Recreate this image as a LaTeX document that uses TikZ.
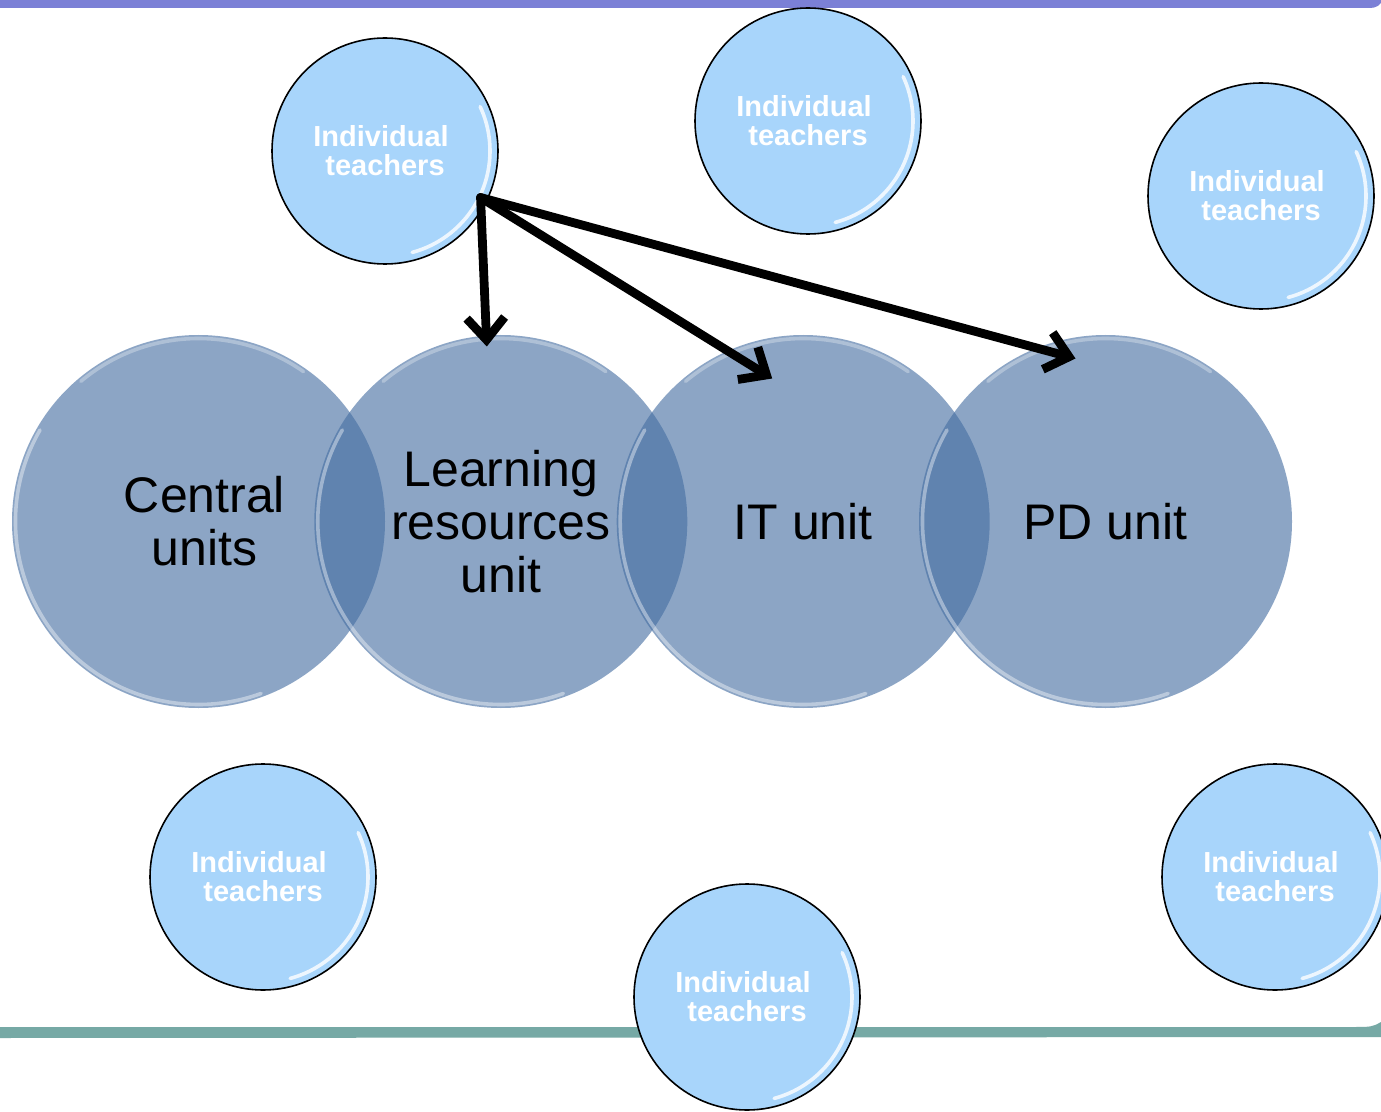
\documentclass[tikz,border=0pt]{standalone}
\usepackage{fontspec}
\setmainfont{Liberation Sans}
\usetikzlibrary{arrows.meta}
\definecolor{topbar}{HTML}{7B80D6}
\definecolor{botbar}{HTML}{76A9A5}
\definecolor{unitfill}{HTML}{466FA3}
\definecolor{teachfill}{HTML}{A8D5FB}
\begin{document}
\begin{tikzpicture}[x=0.5pt,y=-0.5pt,
  unit/.style={circle, fill=unitfill, fill opacity=0.62, text opacity=1,
    minimum size=186.5pt, inner sep=0pt, outer sep=0pt, align=center, text=black,
    font=\fontsize{25}{26.5}\selectfont},
  teacher/.style={circle, draw=black, line width=0.8pt, fill=teachfill,
    minimum size=113pt, inner sep=0pt, outer sep=0pt, align=center, text=white,
    font=\bfseries\fontsize{14.5}{14.5}\selectfont},
  unitrim/.style={draw=white, draw opacity=0.4, line width=1.8pt, line cap=round},
  teachrim/.style={draw=white, draw opacity=0.8, line width=1.8pt, line cap=round},
  link/.style={line width=4.4pt, line cap=round, line join=round,
    -{Straight Barb[length=11pt,width=19pt]}}]
\useasboundingbox (0,0) rectangle (1381,1112);
\fill[white] (0,0) rectangle (1381,1112);
% frame bars
\fill[topbar] (0,0) -- (1381,0) -- (1381,3) .. controls (1376,8) .. (1360,8) -- (0,8) -- cycle;
\fill[botbar] (0,1027) -- (1350,1027) .. controls (1372,1027) .. (1381,1022) -- (1381,1037) -- (0,1038) -- cycle;
% unit circles
\node[unit] (cu) at (198.5,521.5) {\kern6pt Central\\\kern6pt units};
\node[unit] (lr) at (500.8,521.5) {Learning\\resources\\unit};
\node[unit] (it) at (803.2,521.5) {IT unit};
\node[unit] (pd) at (1105.5,521.5) {PD unit};
\foreach \n in {cu,lr,it,pd}{
  \draw[unitrim] (\n.center) ++(150:91.5pt) arc[start angle=150, end angle=290, radius=91.5pt];
  \draw[unitrim, draw opacity=0.3] (\n.center) ++(55:91.5pt) arc[start angle=55, end angle=130, radius=91.5pt];
}
% teacher circles
\node[teacher] (t1) at (385,151) {Individual\kern4pt\\teachers};
\node[teacher] (t2) at (808,121) {Individual\kern4pt\\teachers};
\node[teacher] (t3) at (1261,196) {Individual\kern4pt\\teachers};
\node[teacher] (t4) at (263,877) {Individual\kern4pt\\teachers};
\node[teacher] (t5) at (747,997) {Individual\kern4pt\\teachers};
\node[teacher] (t6) at (1275,877) {Individual\kern4pt\\teachers};
\foreach \n in {t1,t2,t3,t4,t5,t6}{
  \draw[teachrim] (\n.center) ++(-75:52.5pt) arc[start angle=-75, end angle=25, radius=52.5pt];
}
% arrows
\coordinate (s) at ([shift={(-6,-3)}]t1.-26);
\coordinate (lrIn) at ([shift={(-14,-175)}]lr.center);
\coordinate (itIn) at ([shift={(-31,-143)}]it.center);
\coordinate (pdIn) at ([shift={(-30,-163)}]pd.center);
\draw[link] (s) -- (lrIn);
\draw[link] (s) -- (itIn);
\draw[link] (s) -- (pdIn);
\end{tikzpicture}
\end{document}
